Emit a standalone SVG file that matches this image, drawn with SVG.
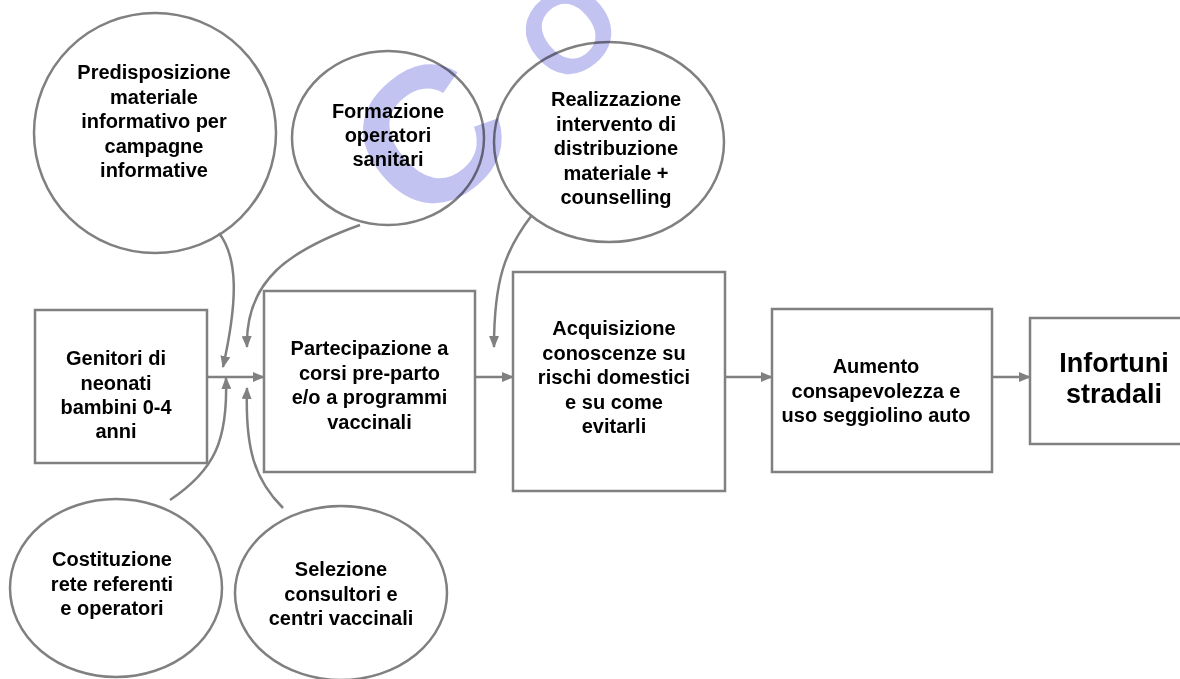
<svg xmlns="http://www.w3.org/2000/svg" width="1180" height="679" viewBox="0 0 1180 679">
<style>
.bg{fill:#ffffff}
.node{fill:#ffffff;stroke:#808080;stroke-width:2.5}
.t{font-family:"Liberation Sans",Arial,sans-serif;font-weight:bold;font-size:20px;fill:#000000;text-anchor:middle}
.big{font-size:27px}
.wm{font-family:"Liberation Sans",Arial,sans-serif;font-weight:bold;fill:#c3c3f1;text-anchor:middle}
.edge{fill:none;stroke:#808080;stroke-width:2.5}
</style>
<defs>
<marker id="arr" markerUnits="userSpaceOnUse" markerWidth="12" markerHeight="10" refX="11" refY="5" orient="auto">
<path d="M0,0 L12,5 L0,10 z" fill="#808080"/>
</marker>
</defs>
<rect class="bg" x="0" y="0" width="1180" height="679"/>
<g id="n-predisposizione">
<ellipse class="node" cx="155" cy="133" rx="121" ry="120"/>
<text class="t" x="154" y="79">Predisposizione</text>
<text class="t" x="154" y="104">materiale</text>
<text class="t" x="154" y="128">informativo per</text>
<text class="t" x="154" y="153">campagne</text>
<text class="t" x="154" y="177">informative</text>
</g>
<g id="n-formazione">
<ellipse class="node" cx="388" cy="138" rx="96" ry="87"/>
<text class="t" x="388" y="118">Formazione</text>
<text class="t" x="388" y="142">operatori</text>
<text class="t" x="388" y="166">sanitari</text>
</g>
<g id="n-realizzazione">
<ellipse class="node" cx="609" cy="142" rx="115" ry="100"/>
<text class="t" x="616" y="106">Realizzazione</text>
<text class="t" x="616" y="130.5">intervento di</text>
<text class="t" x="616" y="155">distribuzione</text>
<text class="t" x="616" y="179.5">materiale +</text>
<text class="t" x="616" y="204">counselling</text>
</g>
<g id="n-costituzione">
<ellipse class="node" cx="116" cy="588" rx="106" ry="89"/>
<text class="t" x="112" y="566">Costituzione</text>
<text class="t" x="112" y="591">rete referenti</text>
<text class="t" x="112" y="615">e operatori</text>
</g>
<g id="n-selezione">
<ellipse class="node" cx="341" cy="593" rx="106" ry="87"/>
<text class="t" x="341" y="576">Selezione</text>
<text class="t" x="341" y="600.5">consultori e</text>
<text class="t" x="341" y="625">centri vaccinali</text>
</g>
<g id="n-genitori">
<rect class="node" x="35" y="310" width="172" height="153"/>
<text class="t" x="116" y="365">Genitori di</text>
<text class="t" x="116" y="390">neonati</text>
<text class="t" x="116" y="414">bambini 0-4</text>
<text class="t" x="116" y="438">anni</text>
</g>
<g id="n-partecipazione">
<rect class="node" x="264" y="291" width="211" height="181"/>
<text class="t" x="369.5" y="355">Partecipazione a</text>
<text class="t" x="369.5" y="379.5">corsi pre-parto</text>
<text class="t" x="369.5" y="404">e/o a programmi</text>
<text class="t" x="369.5" y="428.5">vaccinali</text>
</g>
<g id="n-acquisizione">
<rect class="node" x="513" y="272" width="212" height="219"/>
<text class="t" x="614" y="335">Acquisizione</text>
<text class="t" x="614" y="359.5">conoscenze su</text>
<text class="t" x="614" y="384">rischi domestici</text>
<text class="t" x="614" y="408.5">e su come</text>
<text class="t" x="614" y="433">evitarli</text>
</g>
<g id="n-aumento">
<rect class="node" x="772" y="309" width="220" height="163"/>
<text class="t" x="876" y="373">Aumento</text>
<text class="t" x="876" y="398">consapevolezza e</text>
<text class="t" x="876" y="422">uso seggiolino auto</text>
</g>
<g id="n-infortuni">
<rect class="node" x="1030" y="318" width="152" height="126"/>
<text class="t big" x="1114" y="372">Infortuni</text>
<text class="t big" x="1114" y="403">stradali</text>
</g>
<g id="connectors">
<path class="edge" marker-end="url(#arr)" d="M208,377 H264"/>
<path class="edge" marker-end="url(#arr)" d="M475,377 H513"/>
<path class="edge" marker-end="url(#arr)" d="M725,377 H772"/>
<path class="edge" marker-end="url(#arr)" d="M992,377 H1030"/>
<path class="edge" marker-end="url(#arr)" d="M219,233 C238,258 238,300 223,367"/>
<path class="edge" marker-end="url(#arr)" d="M360,225 C290,250 245,280 247,347"/>
<path class="edge" marker-end="url(#arr)" d="M170,500 C215,470 228,440 226,378"/>
<path class="edge" marker-end="url(#arr)" d="M283,508 C255,480 245,450 247,388"/>
<path class="edge" marker-end="url(#arr)" d="M532,215 C505,250 494,280 494,347"/>
</g>
<g id="watermark" style="mix-blend-mode:multiply">
<text class="wm" font-size="192" transform="translate(428,134) rotate(-40)" x="0" y="69">C</text>
<text class="wm" font-size="118" transform="translate(568,30) rotate(-40)" x="0" y="42">O</text>
</g>
</svg>
